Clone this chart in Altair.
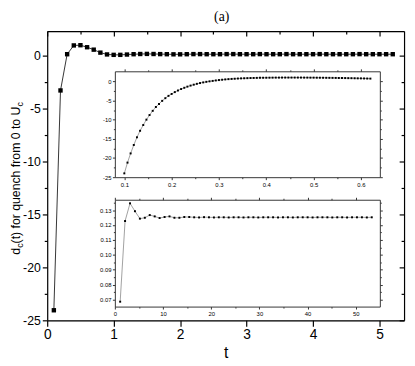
import altair as alt
import pandas as pd

# ---------------- data ----------------
t_main = [0.1, 0.2, 0.3, 0.4, 0.5, 0.6, 0.7, 0.8, 0.9, 1.0,
          1.1, 1.2, 1.3, 1.4, 1.5, 1.6, 1.7, 1.8, 1.9, 2.0,
          2.1, 2.2, 2.3, 2.4, 2.5, 2.6, 2.7, 2.8, 2.9, 3.0,
          3.1, 3.2, 3.3, 3.4, 3.5, 3.6, 3.7, 3.8, 3.9, 4.0,
          4.1, 4.2, 4.3, 4.4, 4.5, 4.6, 4.7, 4.8, 4.9, 5.0,
          5.1, 5.2]
d_main = [-24.05, -3.3, 0.12, 0.95, 0.97, 0.78, 0.55, 0.27, 0.10, 0.06,
          0.06, 0.09, 0.12, 0.14, 0.15, 0.14, 0.13, 0.12, 0.11, 0.11,
          0.12, 0.13, 0.13, 0.12, 0.12, 0.12, 0.13, 0.13, 0.12, 0.12,
          0.12, 0.13, 0.12, 0.12, 0.12, 0.13, 0.12, 0.12, 0.12, 0.12,
          0.13, 0.12, 0.12, 0.12, 0.12, 0.12, 0.13, 0.12, 0.12, 0.12,
          0.12, 0.12]

t_in1 = [0.1, 0.1067, 0.1133, 0.12, 0.1267, 0.1333, 0.14, 0.1467, 0.1533, 0.16,
         0.1667, 0.1733, 0.18, 0.1867, 0.1933, 0.2, 0.2067, 0.2133, 0.22, 0.2267,
         0.2333, 0.24, 0.2467, 0.2533, 0.26, 0.2667, 0.2733, 0.28, 0.2867, 0.2933,
         0.3, 0.3067, 0.3133, 0.32, 0.3267, 0.3333, 0.34, 0.3467, 0.3533, 0.36,
         0.3667, 0.3733, 0.38, 0.3867, 0.3933, 0.4, 0.4067, 0.4133, 0.42, 0.4267,
         0.4333, 0.44, 0.4467, 0.4533, 0.46, 0.4667, 0.4733, 0.48, 0.4867, 0.4933,
         0.5, 0.5067, 0.5133, 0.52, 0.5267, 0.5333, 0.54, 0.5467, 0.5533, 0.56,
         0.5667, 0.5733, 0.58, 0.5867, 0.5933, 0.6, 0.6067, 0.6133, 0.62]
d_in1 = [-24.0, -21.2, -18.8, -16.6, -14.6, -12.9, -11.4, -10.0, -8.8, -7.7,
         -6.7, -5.9, -5.1, -4.4, -3.8, -3.3, -2.82, -2.40, -2.02, -1.69,
         -1.39, -1.12, -0.88, -0.66, -0.46, -0.29, -0.14, -0.01, 0.10, 0.22,
         0.32, 0.41, 0.49, 0.56, 0.62, 0.67, 0.72, 0.76, 0.79, 0.82,
         0.85, 0.87, 0.89, 0.91, 0.92, 0.93, 0.94, 0.95, 0.96, 0.96,
         0.97, 0.97, 0.97, 0.97, 0.97, 0.97, 0.97, 0.96, 0.96, 0.95,
         0.95, 0.94, 0.93, 0.92, 0.91, 0.90, 0.89, 0.88, 0.86, 0.85,
         0.84, 0.82, 0.81, 0.79, 0.77, 0.76, 0.74, 0.72, 0.70]

t_in2 = [1.1, 2.12, 3.15, 4.17, 5.2, 6.22, 7.24, 8.27, 9.29, 10.32,
         11.34, 12.36, 13.39, 14.41, 15.44, 16.46, 17.48, 18.51, 19.53, 20.56,
         21.58, 22.6, 23.63, 24.65, 25.68, 26.7, 27.72, 28.75, 29.77, 30.8,
         31.82, 32.84, 33.87, 34.89, 35.92, 36.94, 37.96, 38.99, 40.01, 41.04,
         42.06, 43.08, 44.11, 45.13, 46.16, 47.18, 48.2, 49.23, 50.25, 51.28,
         52.3, 53.32]
d_in2 = [0.0685, 0.1227, 0.1346, 0.1293, 0.1243, 0.1249, 0.1267, 0.1258, 0.1247, 0.1254,
         0.1258, 0.1249, 0.1249, 0.1254, 0.1254, 0.1252, 0.1251, 0.1253, 0.1252, 0.1251,
         0.1252, 0.1252, 0.1251, 0.1252, 0.1252, 0.1251, 0.1252, 0.1252, 0.1251, 0.1252,
         0.1252, 0.1252, 0.1251, 0.1252, 0.1252, 0.1251, 0.1252, 0.1252, 0.1252, 0.1251,
         0.1252, 0.1252, 0.1252, 0.1251, 0.1252, 0.1252, 0.1251, 0.1252, 0.1252, 0.1252,
         0.1251, 0.1252]

# tick values (major + minor)
main_x_ticks = [0, 0.5, 1, 1.5, 2, 2.5, 3, 3.5, 4, 4.5, 5]
main_y_ticks = [-25, -22.5, -20, -17.5, -15, -12.5, -10, -7.5, -5, -2.5, 0]
in1_x_ticks = [0.1, 0.15, 0.2, 0.25, 0.3, 0.35, 0.4, 0.45, 0.5, 0.55, 0.6]
in1_y_ticks = [-25, -22.5, -20, -17.5, -15, -12.5, -10, -7.5, -5, -2.5, 0]
in2_x_ticks = [0, 5, 10, 15, 20, 25, 30, 35, 40, 45, 50]
in2_y_ticks = [0.07, 0.075, 0.08, 0.085, 0.09, 0.095, 0.1, 0.105, 0.11, 0.115,
               0.12, 0.125, 0.13, 0.135]

W, H = 364, 295
FONT = "Liberation Sans"
MINUS = "\u2212"


def axis(orient, values, minor_test, major, minor, offset=0, labels=True,
         fontsize=14, color="black", width=1.0, fmt=None, pad=2, title=None,
         **extra):
    kw = dict(orient=orient, values=values, offset=offset, grid=False,
              domainColor=color, domainWidth=width, tickColor=color,
              tickWidth=width,
              tickSize={"condition": {"test": minor_test, "value": minor},
                        "value": major},
              labels=labels, labelFlush=False, labelOverlap=False,
              labelFont=FONT, labelFontSize=fontsize, labelColor="black",
              labelPadding=pad,
              labelExpr="(" + minor_test + ") ? '' : replace(datum.label, '"
                        + MINUS + "', '-')")
    if fmt is not None:
        kw["format"] = fmt
    kw["title"] = title
    kw.update(extra)
    return alt.Axis(**kw)


def sc(domain, rng):
    return alt.Scale(domain=domain, range=rng, nice=False, zero=False)


main_df = pd.DataFrame({"t": t_main, "d": d_main})
in1_df = pd.DataFrame({"t": t_in1, "d": d_in1})
in2_df = pd.DataFrame({"t": t_in2, "d": d_in2})

mx = sc([0, 5.37], [0, W])
my = sc([-25, 2.3], [H, 0])
MX_T = "datum.value % 1 != 0"
MY_T = "datum.value % 5 != 0"

main_line = alt.Chart(main_df).mark_line(color="#333333", strokeWidth=1).encode(
    x=alt.X("t:Q", scale=mx,
            axis=axis("bottom", main_x_ticks, MX_T, 6, 3, width=1.2, pad=2,
                      fmt="d",
                      title="t", titleFont=FONT, titleFontSize=16,
                      titleFontWeight="normal", titleColor="black",
                      titlePadding=3)),
    y=alt.Y("d:Q", scale=my,
            axis=axis("left", main_y_ticks, MY_T, 5, 3, width=1.2, pad=2,
                      fmt="d", fontsize=12.5)),
)
main_pts = alt.Chart(main_df).mark_point(shape="square", size=20, filled=True,
                                         color="black", opacity=1).encode(
    x=alt.X("t:Q", scale=mx,
            axis=axis("bottom", main_x_ticks, MX_T, 5, 3, offset=-H,
                      labels=False, width=1.2)),
    y=alt.Y("d:Q", scale=my,
            axis=axis("left", main_y_ticks, MY_T, 5, 3, offset=-W,
                      labels=False, width=1.2)),
)

IX0, IX1 = 69, 339.3
I1X_T = "abs(datum.value*10 - round(datum.value*10)) > 0.01"
I1Y_T = "datum.value % 5 != 0"
i1x = sc([0.08, 0.64], [IX0, IX1])
i1y = sc([-25, 2.6], [149, 41])
in1_line = alt.Chart(in1_df).mark_line(color="#777777", strokeWidth=0.7).encode(
    x=alt.X("t:Q", scale=i1x,
            axis=axis("bottom", in1_x_ticks, I1X_T, 2.5, 1.5, offset=149 - H,
                      fontsize=6, color="#333333", pad=2, fmt=".1f")),
    y=alt.Y("d:Q", scale=i1y,
            axis=axis("left", in1_y_ticks, I1Y_T, 2.5, 1.5, offset=-IX0,
                      fontsize=6, color="#333333", pad=1.5, fmt="d")),
)
in1_pts = alt.Chart(in1_df).mark_point(shape="square", size=4, filled=True,
                                       color="black", opacity=1).encode(
    x=alt.X("t:Q", scale=i1x,
            axis=axis("top", in1_x_ticks, I1X_T, 2.5, 1.5, offset=-41,
                      labels=False, color="#333333")),
    y=alt.Y("d:Q", scale=i1y,
            axis=axis("right", in1_y_ticks, I1Y_T, 2.5, 1.5, offset=IX1 - W,
                      labels=False, color="#333333")),
)

I2X_T = "datum.value % 10 != 0"
I2Y_T = "abs(datum.value*100 - round(datum.value*100)) > 0.01"
i2x = sc([0, 55], [IX0, IX1])
i2y = sc([0.0652, 0.137], [281, 172])
in2_line = alt.Chart(in2_df).mark_line(color="#777777", strokeWidth=0.7).encode(
    x=alt.X("t:Q", scale=i2x,
            axis=axis("bottom", in2_x_ticks, I2X_T, 2.5, 1.5, offset=281 - H,
                      fontsize=6, color="#333333", pad=2, fmt="d")),
    y=alt.Y("d:Q", scale=i2y,
            axis=axis("left", in2_y_ticks, I2Y_T, 2.5, 1.5, offset=-IX0,
                      fontsize=6, color="#333333", pad=1.5, fmt=".2f")),
)
in2_pts = alt.Chart(in2_df).mark_point(shape="square", size=4, filled=True,
                                       color="black", opacity=1).encode(
    x=alt.X("t:Q", scale=i2x,
            axis=axis("top", in2_x_ticks, I2X_T, 2.5, 1.5, offset=-172,
                      labels=False, color="#333333")),
    y=alt.Y("d:Q", scale=i2y,
            axis=axis("right", in2_y_ticks, I2Y_T, 2.5, 1.5, offset=IX1 - W,
                      labels=False, color="#333333")),
)


def txt(s, x, y, size, angle=0, font=FONT, align="left"):
    return alt.Chart(pd.DataFrame({"s": [s]})).mark_text(
        font=font, fontSize=size, angle=angle, align=align,
        baseline="alphabetic", color="black").encode(
        text="s:N", x=alt.value(x), y=alt.value(y))


panel = txt("(a)", 178, -10, 14, font="Liberation Serif", align="center")
YT = 12.5
ysub = 9
XB = -28
y0 = 228
y1 = y0 - 0.556 * YT
y2 = y1 - 0.5 * ysub
y3 = y2 - 11.171 * YT
t_d = txt("d", XB, y0, YT, angle=270)
t_c1 = txt("c", XB + 3, y1, ysub, angle=270)
t_mid = txt("(t) for quench from 0 to U", XB, y2, YT, angle=270)
t_c2 = txt("c", XB + 3, y3, ysub, angle=270)

chart = alt.layer(
    main_line, main_pts, in1_line, in1_pts, in2_line, in2_pts,
    panel, t_d, t_c1, t_mid, t_c2,
).resolve_scale(
    x="independent", y="independent"
).resolve_axis(
    x="independent", y="independent"
).properties(
    width=W, height=H, autosize="none",
    padding={"left": 40, "top": 20, "right": 3, "bottom": 43},
).configure_view(stroke=None).configure(background="white")

chart.save("out.html", embed_options={"renderer": "svg", "actions": False})
